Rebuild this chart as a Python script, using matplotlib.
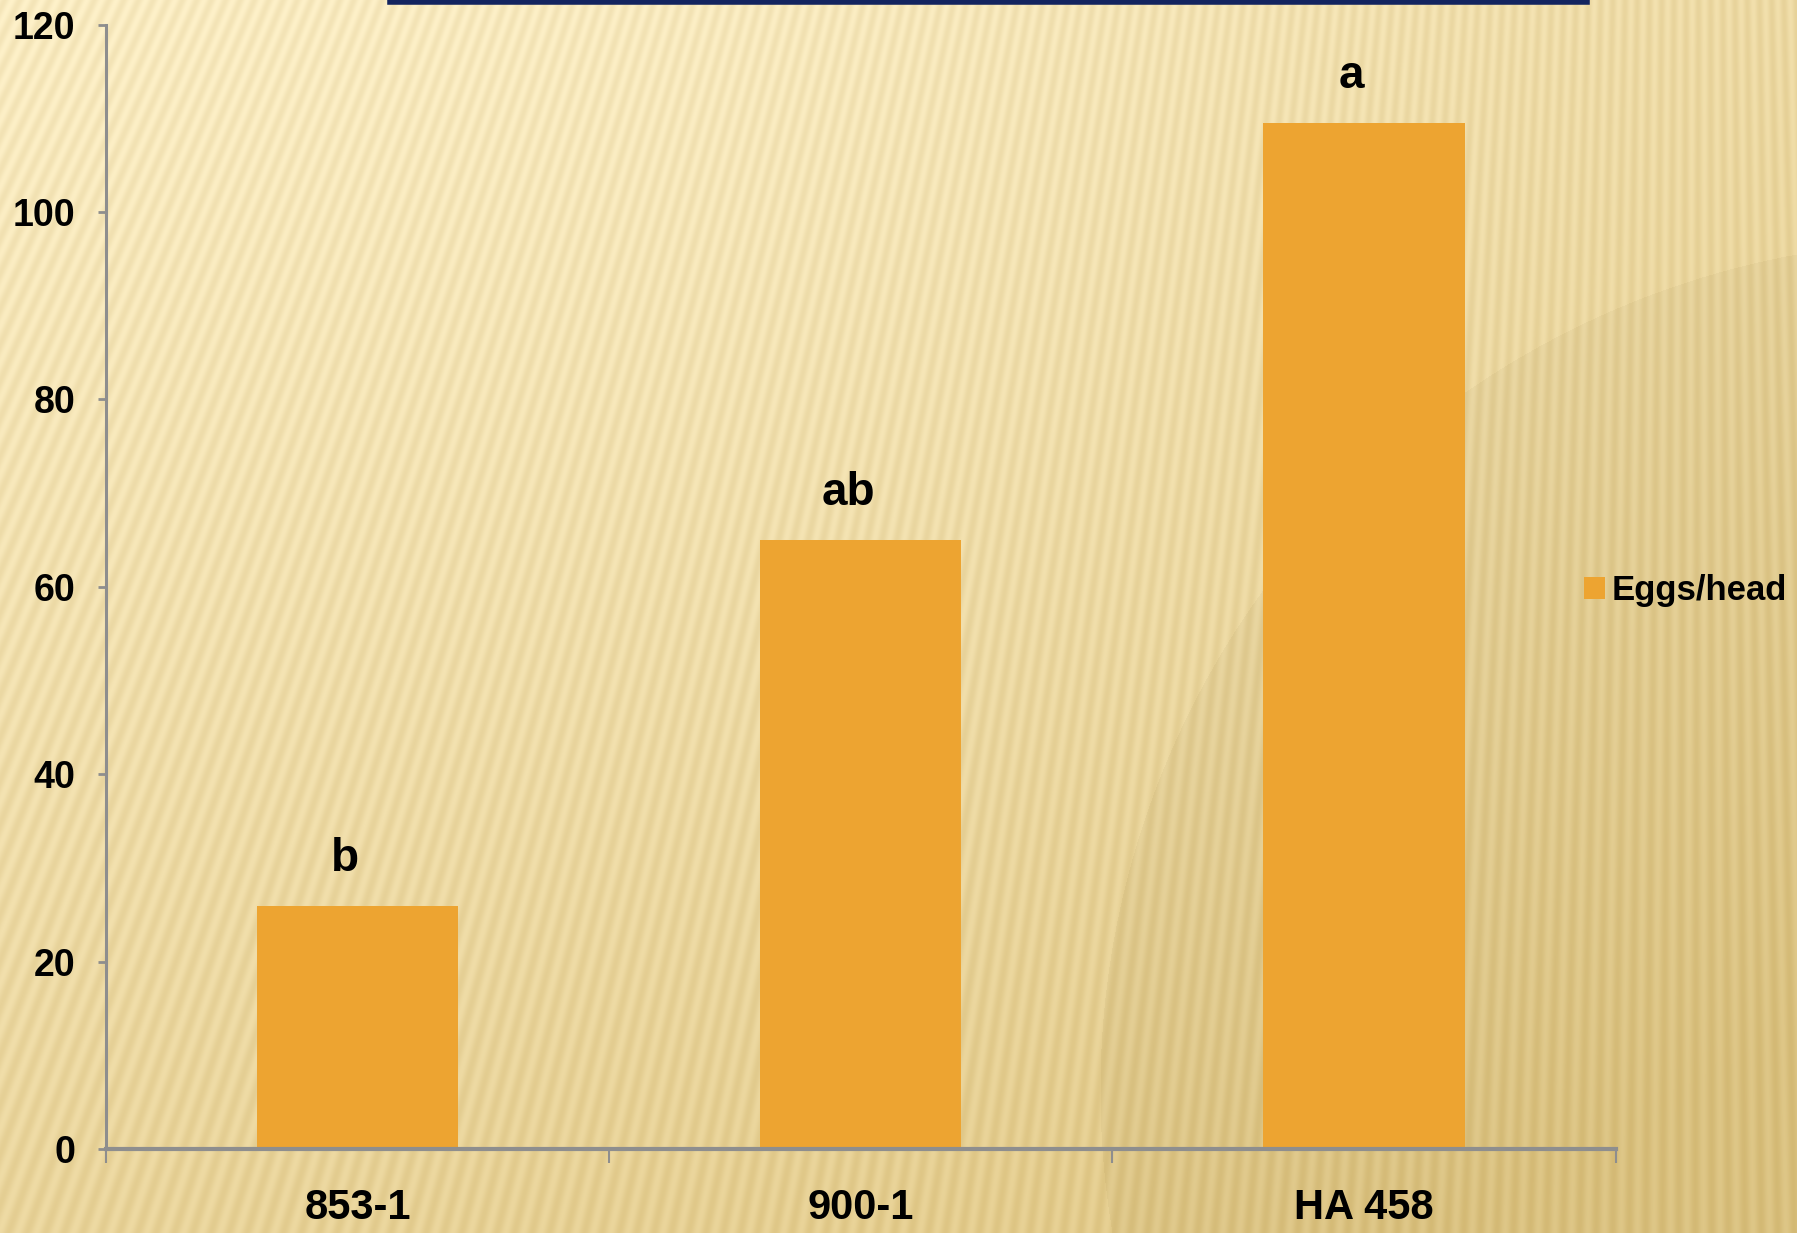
import numpy as np
import matplotlib
matplotlib.use('Agg')
import matplotlib.pyplot as plt
from matplotlib.lines import Line2D

categories = ['853-1', '900-1', 'HA 458']
eggs_per_head = [26, 65, 109.5]
letters = ['b', 'ab', 'a']
series_name = 'Eggs/head'

W, H = 1797, 1233
fig = plt.figure(figsize=(W / 100, H / 100), dpi=100)

# background: warm yellow gradient with fan-shaped stripes
yy, xx = np.mgrid[0:H, 0:W].astype(float)
fx, fy = W * 0.95, -3500.0
theta = np.arctan2(xx - fx, yy - fy)
stripes = 0.5 + 0.5 * np.sin(theta * 1800)
light = np.exp(-(((xx - 800) / 900) ** 2 + ((yy - 100) / 900) ** 2))
dark_t = np.clip((xx / W) * 0.5 + (yy / H) * 0.6, 0, 1)
circ = np.sqrt((xx - 1950) ** 2 + (yy - 1090) ** 2) < 850
top = np.array([252, 238, 196]) / 255
bot = np.array([228, 204, 140]) / 255
bg = top[None, None, :] * (1 - dark_t[..., None]) + bot[None, None, :] * dark_t[..., None]
bg = bg + light[..., None] * np.array([0.02, 0.03, 0.05])
bg = bg - circ[..., None] * 0.025
bg = bg - stripes[..., None] * np.array([0.04, 0.05, 0.07])
bg = np.clip(bg, 0, 1)
bgax = fig.add_axes([0, 0, 1, 1], zorder=-5)
bgax.imshow(bg, aspect='auto', interpolation='bilinear')
bgax.axis('off')

# navy line at top
fig.add_artist(Line2D([0.217, 0.883], [0.998, 0.998], color='#13245f', lw=4,
                      transform=fig.transFigure))

ax = fig.add_axes([0.059, 0.068, 0.84, 0.912])
ax.patch.set_alpha(0)
x = np.arange(len(categories))
bars = ax.bar(x, eggs_per_head, width=0.4, color='#eda431', label=series_name)

for b, t in zip(bars, letters):
    ax.annotate(t, (b.get_x() + b.get_width() / 2, b.get_height()),
                xytext=(-9, 18), textcoords='offset points', ha='center', va='bottom',
                fontsize=33, fontweight='bold', family='Liberation Sans')

ax.set_xlim(-0.5, 2.5)
ax.set_ylim(0, 120)
ax.set_yticks(range(0, 121, 20))
ax.set_xticks([-0.5, 0.5, 1.5, 2.5])
ax.set_xticklabels([])
ax.set_xticks(x, minor=True)
ax.set_xticklabels(categories, minor=True, fontsize=30, fontweight='bold',
                   family='Liberation Sans')
ax.tick_params(axis='x', which='minor', length=0, pad=28)
ax.tick_params(axis='x', which='major', length=10, width=1.5, color='#8e8e8e')
ax.tick_params(axis='y', length=6, width=2, color='#8e8e8e', pad=16)
for lab in ax.get_yticklabels():
    lab.set_fontsize(27)
    lab.set_fontweight('bold')
    lab.set_family('Liberation Sans')
for s in ['top', 'right']:
    ax.spines[s].set_visible(False)
ax.spines['left'].set_color('#8e8e8e')
ax.spines['left'].set_linewidth(2.2)
ax.spines['bottom'].set_color('#8e8e8e')
ax.spines['bottom'].set_linewidth(3)

leg = fig.legend(loc='center left', bbox_to_anchor=(0.864, 0.521), frameon=False,
                 handlelength=0.6, handleheight=0.6, handletextpad=0.2,
                 prop={'family': 'Liberation Sans', 'weight': 'bold', 'size': 25})

fig.savefig('out.png', dpi=100)
